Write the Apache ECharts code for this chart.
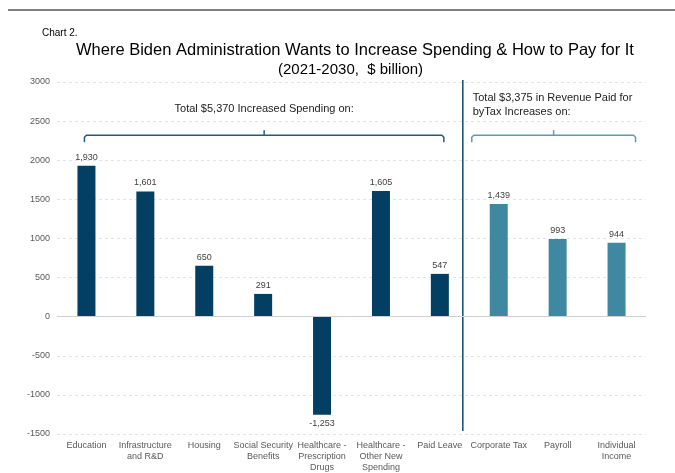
<!DOCTYPE html>
<html><head><meta charset="utf-8">
<script src="https://cdn.jsdelivr.net/npm/echarts@6/dist/echarts.min.js"></script>
<style>html,body{margin:0;padding:0;background:#fff}#c{width:675px;height:473px}</style>
</head><body><div id="c"></div>
<script>
const categories = ['Education','Infrastructure\nand R&D','Housing','Social Security\nBenefits','Healthcare -\nPrescription\nDrugs','Healthcare -\nOther New\nSpending','Paid Leave','Corporate Tax','Payroll','Individual\nIncome'];
const spendingValues = [1930, 1601, 650, 291, -1253, 1605, 547, null, null, null];
const revenueValues = [null, null, null, null, null, null, null, 1439, 993, 944];
const yTicks = [-1500, -1000, -500, 0, 500, 1000, 1500, 2000, 2500, 3000];

const chart = echarts.init(document.getElementById('c'));
const font = 'Liberation Sans, Arial, sans-serif';
const labelFmt = p => p.value == null ? '' : p.value.toLocaleString('en-US');
chart.setOption({
  animation: false,
  textStyle: {fontFamily: font},
  grid: {left: 57, right: 29, top: 82, bottom: 37},
  title: [
    {text: 'Chart 2.', left: 37, top: 23, textStyle: {fontSize: 10, fontWeight: 'normal', color: '#000', fontFamily: font}},
    {text: 'Where Biden Administration Wants to Increase Spending & How to Pay for It', left: 71, top: 37, textStyle: {fontSize: 16.5, fontWeight: 'normal', color: '#000', fontFamily: font}},
    {text: '(2021-2030,  $ billion)', left: 273, top: 57, textStyle: {fontSize: 15, fontWeight: 'normal', color: '#000', fontFamily: font}}
  ],
  xAxis: {
    type: 'category', data: categories,
    axisLine: {show: false}, axisTick: {show: false},
    axisLabel: {fontSize: 9, color: '#595959', interval: 0, lineHeight: 11, margin: 6}
  },
  yAxis: {
    type: 'value', min: -1500, max: 3000, interval: 500,
    axisLabel: {fontSize: 9, color: '#595959', margin: 7, formatter: v => String(v)},
    splitLine: {lineStyle: {type: [3, 3], color: '#e4e4e4'}},
    axisLine: {show: false}, axisTick: {show: false}
  },
  series: [
    {type: 'bar', data: spendingValues.map(v => v != null && v < 0 ? {value: v, label: {position: 'bottom'}} : v),
     barWidth: 18, barGap: '-100%', itemStyle: {color: '#023f63'},
     label: {show: true, position: 'top', fontSize: 9, color: '#404040', distance: 4, formatter: labelFmt},
     markLine: {silent: true, symbol: 'none', label: {show: false}, lineStyle: {color: '#d0d0d0', type: 'solid', width: 1}, data: [{yAxis: 0}]}
    },
    {type: 'bar', data: revenueValues, barWidth: 18, itemStyle: {color: '#3f88a2'},
     label: {show: true, position: 'top', fontSize: 9, color: '#404040', distance: 4, formatter: labelFmt}}
  ]
});

function px(i, v) { return chart.convertToPixel({xAxisIndex: 0, yAxisIndex: 0}, [i, v]); }
const step = px(1, 0)[0] - px(0, 0)[0];
const yTop = px(0, 3000)[1], yBot = px(0, -1500)[1];
const divX = px(6, 0)[0] + step * 0.39;
const brY = px(0, 2320)[1];
function bracket(x1, x2, color) {
  const xm = (x1 + x2) / 2;
  return [
    {type: 'polyline', shape: {points: [[x1, brY + 7], [x1, brY + 2], [x1 + 2, brY], [x2 - 2, brY], [x2, brY + 2], [x2, brY + 7]]}, style: {stroke: color, lineWidth: 1.5, fill: null}},
    {type: 'line', shape: {x1: xm, y1: brY, x2: xm, y2: brY - 5}, style: {stroke: color, lineWidth: 1.5}}
  ];
}
const l1 = px(0, 0)[0] - 2, r1 = px(6, 0)[0] + 4;
const l2 = px(7, 0)[0] - 27, r2 = px(9, 0)[0] + 19;
chart.setOption({graphic: [
  {type: 'line', shape: {x1: 8, y1: 10, x2: 675, y2: 10}, style: {stroke: '#555', lineWidth: 1.5}},
  {type: 'line', shape: {x1: divX, y1: yTop - 2, x2: divX, y2: yBot - 3}, style: {stroke: '#0b4a6e', lineWidth: 1.5}},
  ...bracket(l1, r1, '#235c7b'),
  ...bracket(l2, r2, '#5e9bb0'),
  {type: 'text', x: (l1 + r1) / 2, y: brY - 32, style: {text: 'Total $5,370 Increased Spending on:', font: '11px ' + font, fill: '#222', textAlign: 'center'}},
  {type: 'text', x: l2 + 1, y: brY - 44, style: {text: 'Total $3,375 in Revenue Paid for\nbyTax Increases on:', font: '11px ' + font, fill: '#222', lineHeight: 14}}
]});
</script></body></html>
